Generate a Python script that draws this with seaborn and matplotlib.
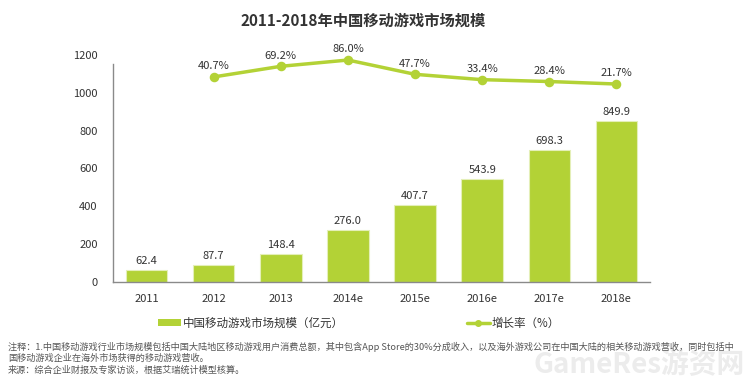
import matplotlib
matplotlib.use('Agg')
import matplotlib.pyplot as plt
import seaborn as sns
import pandas as pd
from matplotlib.patches import Patch
from matplotlib.lines import Line2D

# chart data
years = ['2011', '2012', '2013', '2014e', '2015e', '2016e', '2017e', '2018e']
market_size = [62.4, 87.7, 148.4, 276.0, 407.7, 543.9, 698.3, 849.9]
growth_years = ['2012', '2013', '2014e', '2015e', '2016e', '2017e', '2018e']
growth_rate = [40.7, 69.2, 86.0, 47.7, 33.4, 28.4, 21.7]
y_ticks = [0, 200, 400, 600, 800, 1000, 1200]

title = '2011-2018年中国移动游戏市场规模'
bar_label = '中国移动游戏市场规模（亿元）'
line_label = '增长率（%）'
note_lines = [
    '注释：1.中国移动游戏行业市场规模包括中国大陆地区移动游戏用户消费总额，其中包含App Store的30%分成收入，以及海外游戏公司在中国大陆的相关移动游戏营收，同时包括中',
    '国移动游戏企业在海外市场获得的移动游戏营收。',
    '来源：综合企业财报及专家访谈，根据艾瑞统计模型核算。',
]

sns.set_theme(style='white')
plt.rcParams['font.family'] = ['Noto Sans CJK SC', 'DejaVu Sans']

green = '#b3d236'
txt = '#333333'

bars = pd.DataFrame({'year': years, 'size': market_size})
growth = pd.DataFrame({'year': growth_years, 'rate': growth_rate})

fig = plt.figure(figsize=(7.5, 3.82), dpi=100)
ax = fig.add_axes([113 / 750, 100 / 382, 537 / 750, 227 / 382])

sns.barplot(data=bars, x='year', y='size', order=years, color=green,
            width=0.62, edgecolor='#e4efb8', linewidth=0.8, saturation=1, ax=ax)
for i, v in enumerate(market_size):
    ax.annotate(f'{v:.1f}', (i, v), xytext=(0, 3), textcoords='offset points',
                ha='center', va='bottom', fontsize=8, color=txt)

ax.set_xlim(-0.5, 7.5)
ax.set_ylim(0, 1200)
ax.set_yticks(y_ticks)
ax.set_xlabel('')
ax.set_ylabel('')
ax.tick_params(axis='both', length=0, labelsize=8, labelcolor=txt)
ax.tick_params(axis='y', pad=11)
ax.tick_params(axis='x', pad=9)
for s in ['top', 'right']:
    ax.spines[s].set_visible(False)
for s in ['left', 'bottom']:
    ax.spines[s].set_color('#8a8a8a')
    ax.spines[s].set_linewidth(1)
ax.spines['left'].set_bounds(0, 1155)

ax2 = ax.twinx()
sns.pointplot(data=growth, x='year', y='rate', order=years, color=green,
              errorbar=None, markersize=5, linewidth=2.5, ax=ax2)
for yr, v in zip(growth_years, growth_rate):
    i = years.index(yr)
    ax2.annotate(f'{v:.1f}%', (i, v), xytext=(0, 4), textcoords='offset points',
                 ha='center', va='bottom', fontsize=8, color=txt)
ax2.set_ylim(-509, 99.5)
ax2.set_xlim(-0.5, 7.5)
ax2.set_yticks([])
ax2.set_xlabel('')
ax2.set_ylabel('')
for s in ax2.spines.values():
    s.set_visible(False)

fig.text(363 / 750, 1 - 21 / 382, title, ha='center', va='center',
         fontsize=11, fontweight='bold', color=txt)

handles = [Patch(facecolor=green, edgecolor='none'),
           Line2D([0], [0], color=green, linewidth=2.5, marker='o', markersize=4)]
fig.legend(handles, [bar_label, line_label], ncol=2, loc='center left',
           bbox_to_anchor=(158 / 750, 1 - 323 / 382), frameon=False,
           fontsize=8.3, handlelength=2.0, handleheight=0.5, handletextpad=0.2,
           columnspacing=10.6, borderpad=0, borderaxespad=0,
           labelcolor=txt)

# faint watermark in the bottom right corner
fig.text(745 / 750, 1 - 365 / 382, 'GameRes游资网', ha='right', va='center',
         fontsize=20, fontweight='bold', color='#ececec', zorder=0)

for k, line in enumerate(note_lines):
    fig.text(8 / 750, 1 - (347 + 11.5 * k) / 382, line, ha='left', va='center',
             fontsize=6.6, color='#555555')

fig.savefig('out.png', dpi=100)
